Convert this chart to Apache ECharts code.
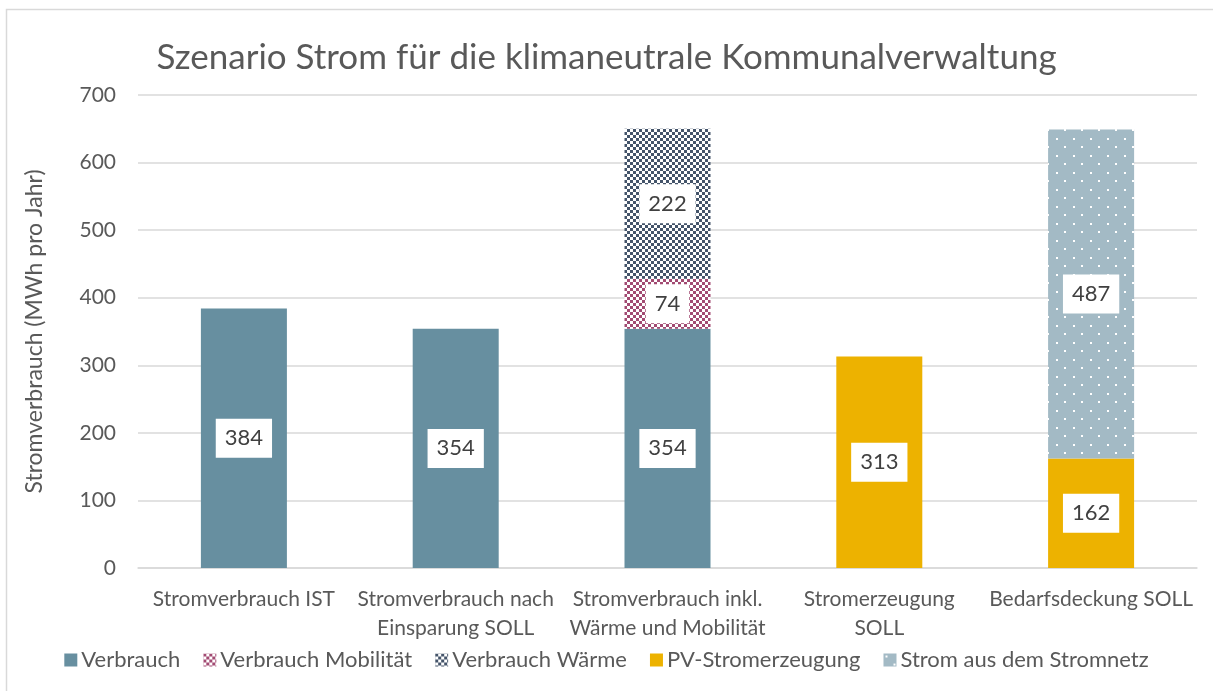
<!DOCTYPE html>
<html>
<head>
<meta charset="utf-8">
<script src="https://cdn.jsdelivr.net/npm/echarts@6/dist/echarts.min.js"></script>
<style>
  html, body { margin: 0; padding: 0; background: #fff; }
  #chart { width: 1213px; height: 691px; }
</style>
</head>
<body>
<div id="chart"></div>
<script>
// categories and values
const categories = [
  'Stromverbrauch IST',
  'Stromverbrauch nach\nEinsparung SOLL',
  'Stromverbrauch inkl.\nWärme und Mobilität',
  'Stromerzeugung\nSOLL',
  'Bedarfsdeckung SOLL'
];
const verbrauch = [384, 354, 354, null, null];
const mobilitaet = [null, null, 74, null, null];
const waerme = [null, null, 222, null, null];
const pvErzeugung = [null, null, null, 313, 162];
const stromnetz = [null, null, null, null, 487];

// fill patterns (Excel-like checkerboard and dotted)
function checker(color) {
  const c = document.createElement('canvas');
  c.width = 6; c.height = 6;
  const ctx = c.getContext('2d');
  ctx.fillStyle = '#fff';
  ctx.fillRect(0, 0, 6, 6);
  ctx.fillStyle = color;
  ctx.fillRect(0, 0, 3, 3);
  ctx.fillRect(3, 3, 3, 3);
  return { image: c, repeat: 'repeat' };
}
function dotted(color) {
  const c = document.createElement('canvas');
  c.width = 17; c.height = 17;
  const ctx = c.getContext('2d');
  ctx.fillStyle = color;
  ctx.fillRect(0, 0, 17, 17);
  ctx.fillStyle = '#fff';
  ctx.fillRect(2, 2, 2, 2);
  ctx.fillRect(10, 10, 2, 2);
  return { image: c, repeat: 'repeat' };
}

const font = 'Lato, "Open Sans", sans-serif';
const label = {
  show: true,
  position: 'inside',
  backgroundColor: '#fff',
  padding: [9, 9, 8, 9],
  color: '#404040',
  fontSize: 22,
  fontFamily: font
};

function bar(name, data, color) {
  return {
    name: name,
    type: 'bar',
    stack: 'total',
    barWidth: 86,
    data: data,
    itemStyle: { color: color },
    label: label,
    emphasis: { disabled: true }
  };
}

const chart = echarts.init(document.getElementById('chart'));
chart.setOption({
  backgroundColor: '#fff',
  animation: false,
  title: {
    text: 'Szenario Strom für die klimaneutrale Kommunalverwaltung',
    left: 'center',
    top: 35,
    textStyle: { color: '#595959', fontSize: 35, fontWeight: 'normal', fontFamily: font }
  },
  graphic: [{
    type: 'rect',
    shape: { x: 6.5, y: 9.5, width: 1220, height: 700 },
    style: { fill: 'none', stroke: '#D9D9D9', lineWidth: 1.5 },
    silent: true
  }],
  legend: {
    bottom: 15,
    left: 'center',
    itemWidth: 13,
    itemHeight: 13,
    itemGap: 23,
    icon: 'rect',
    textStyle: { color: '#595959', fontSize: 22, fontFamily: font, padding: [0, 0, 0, -1] },
    data: ['Verbrauch', 'Verbrauch Mobilität', 'Verbrauch Wärme', 'PV-Stromerzeugung', 'Strom aus dem Stromnetz']
  },
  grid: { left: 138, right: 16, top: 95, bottom: 123 },
  xAxis: {
    type: 'category',
    data: categories,
    axisLine: { lineStyle: { color: '#D9D9D9', width: 1.5 } },
    axisTick: { show: false },
    axisLabel: {
      color: '#595959', fontSize: 21, fontFamily: font,
      lineHeight: 29, margin: 17, interval: 0
    }
  },
  yAxis: {
    type: 'value',
    min: 0,
    max: 700,
    interval: 100,
    name: 'Stromverbrauch (MWh pro Jahr)',
    nameLocation: 'middle',
    nameGap: 92,
    nameTextStyle: { color: '#595959', fontSize: 23, fontFamily: font },
    axisLine: { show: false },
    axisTick: { show: false },
    axisLabel: { color: '#595959', fontSize: 21, fontFamily: font, margin: 22 },
    splitLine: { lineStyle: { color: '#D9D9D9', width: 1.5 } }
  },
  series: [
    bar('Verbrauch', verbrauch, '#678FA0'),
    bar('Verbrauch Mobilität', mobilitaet, checker('#A24A72')),
    bar('Verbrauch Wärme', waerme, checker('#44546A')),
    bar('PV-Stromerzeugung', pvErzeugung, '#EDB200'),
    bar('Strom aus dem Stromnetz', stromnetz, dotted('#A3BAC5'))
  ]
});
</script>
</body>
</html>
